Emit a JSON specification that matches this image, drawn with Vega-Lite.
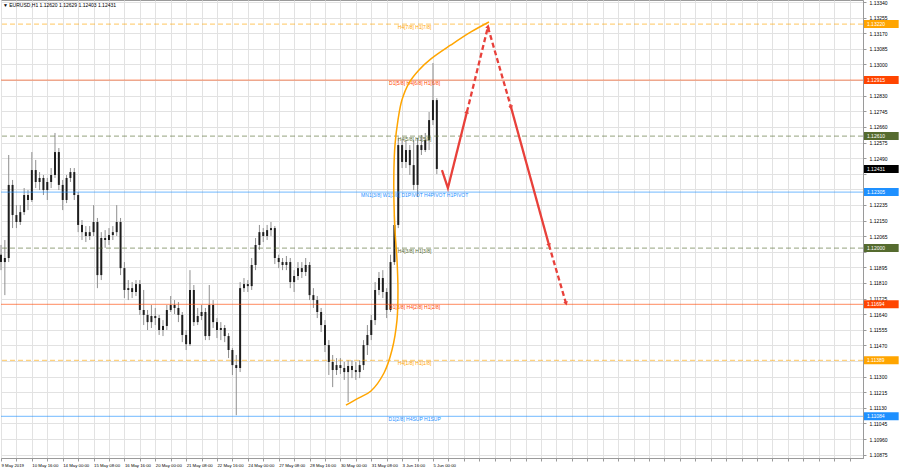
{
"$schema": "https://vega.github.io/schema/vega-lite/v6.json",
"width": 862, "height": 458, "padding": 0, "background": "white",
"config": {"view": {"stroke": "#9a9a9a", "strokeWidth": 1}, "font": "Liberation Sans",
"axis": {"grid": true, "gridColor": "#e2e2e2", "gridWidth": 1, "labelFontSize": 5, "labelColor": "#000000", "tickSize": 3, "tickColor": "#9a9a9a", "domainColor": "#9a9a9a", "labelOverlap": false, "labelFlush": false, "labelBound": false, "tickCount": 1000},
"axisX": {"labelAlign": "left", "labelPadding": 2, "labelFontSize": 4.3},
"axisY": {"labelPadding": 3, "labelBaseline": "middle"}},
"datasets": {
"candles": [
{"b":0,"o":1.11964,"h":1.12017,"l":1.11880,"c":1.11924},
{"b":4,"o":1.11924,"h":1.12044,"l":1.11744,"c":1.11946},
{"b":8,"o":1.11946,"h":1.12507,"l":1.11924,"c":1.12344},
{"b":12,"o":1.12344,"h":1.12371,"l":1.12109,"c":1.12180},
{"b":16,"o":1.12180,"h":1.12234,"l":1.12109,"c":1.12142},
{"b":20,"o":1.12142,"h":1.12234,"l":1.12126,"c":1.12196},
{"b":24,"o":1.12196,"h":1.12327,"l":1.12180,"c":1.12289},
{"b":28,"o":1.12289,"h":1.12316,"l":1.12207,"c":1.12262},
{"b":32,"o":1.12262,"h":1.12523,"l":1.12251,"c":1.12425},
{"b":36,"o":1.12425,"h":1.12480,"l":1.12327,"c":1.12360},
{"b":40,"o":1.12360,"h":1.12414,"l":1.12316,"c":1.12382},
{"b":44,"o":1.12382,"h":1.12398,"l":1.12289,"c":1.12316},
{"b":48,"o":1.12316,"h":1.12382,"l":1.12262,"c":1.12360},
{"b":52,"o":1.12360,"h":1.12436,"l":1.12327,"c":1.12398},
{"b":56,"o":1.12398,"h":1.12627,"l":1.12382,"c":1.12523},
{"b":60,"o":1.12523,"h":1.12545,"l":1.12316,"c":1.12344},
{"b":64,"o":1.12344,"h":1.12371,"l":1.12207,"c":1.12262},
{"b":68,"o":1.12262,"h":1.12398,"l":1.12245,"c":1.12382},
{"b":72,"o":1.12382,"h":1.12436,"l":1.12360,"c":1.12414},
{"b":76,"o":1.12414,"h":1.12436,"l":1.12262,"c":1.12289},
{"b":80,"o":1.12289,"h":1.12305,"l":1.12087,"c":1.12126},
{"b":84,"o":1.12126,"h":1.12153,"l":1.12044,"c":1.12087},
{"b":88,"o":1.12087,"h":1.12120,"l":1.12033,"c":1.12066},
{"b":92,"o":1.12066,"h":1.12120,"l":1.12044,"c":1.12087},
{"b":96,"o":1.12087,"h":1.12234,"l":1.12066,"c":1.12142},
{"b":100,"o":1.12142,"h":1.12164,"l":1.11782,"c":1.11853},
{"b":104,"o":1.11853,"h":1.12087,"l":1.11826,"c":1.12055},
{"b":108,"o":1.12055,"h":1.12098,"l":1.12001,"c":1.12044},
{"b":112,"o":1.12044,"h":1.12109,"l":1.12017,"c":1.12071},
{"b":116,"o":1.12071,"h":1.12120,"l":1.12044,"c":1.12087},
{"b":120,"o":1.12087,"h":1.12234,"l":1.12066,"c":1.12142},
{"b":124,"o":1.12142,"h":1.12164,"l":1.11853,"c":1.11891},
{"b":128,"o":1.11891,"h":1.11924,"l":1.11728,"c":1.11772},
{"b":132,"o":1.11772,"h":1.11826,"l":1.11717,"c":1.11782},
{"b":136,"o":1.11782,"h":1.11815,"l":1.11728,"c":1.11761},
{"b":140,"o":1.11761,"h":1.11826,"l":1.11739,"c":1.11804},
{"b":144,"o":1.11804,"h":1.11826,"l":1.11636,"c":1.11663},
{"b":148,"o":1.11663,"h":1.11772,"l":1.11581,"c":1.11636},
{"b":152,"o":1.11636,"h":1.11663,"l":1.11554,"c":1.11597},
{"b":156,"o":1.11597,"h":1.11690,"l":1.11565,"c":1.11630},
{"b":160,"o":1.11630,"h":1.11674,"l":1.11581,"c":1.11619},
{"b":164,"o":1.11619,"h":1.11636,"l":1.11527,"c":1.11554},
{"b":168,"o":1.11554,"h":1.11608,"l":1.11521,"c":1.11576},
{"b":172,"o":1.11576,"h":1.11690,"l":1.11554,"c":1.11663},
{"b":176,"o":1.11663,"h":1.11739,"l":1.11652,"c":1.11690},
{"b":180,"o":1.11690,"h":1.11717,"l":1.11641,"c":1.11674},
{"b":184,"o":1.11674,"h":1.11706,"l":1.11597,"c":1.11636},
{"b":188,"o":1.11636,"h":1.11652,"l":1.11488,"c":1.11527},
{"b":192,"o":1.11527,"h":1.11554,"l":1.11445,"c":1.11477},
{"b":196,"o":1.11477,"h":1.11880,"l":1.11467,"c":1.11772},
{"b":200,"o":1.11772,"h":1.11799,"l":1.11576,"c":1.11597},
{"b":204,"o":1.11597,"h":1.11674,"l":1.11581,"c":1.11630},
{"b":208,"o":1.11630,"h":1.11690,"l":1.11608,"c":1.11652},
{"b":212,"o":1.11652,"h":1.11674,"l":1.11499,"c":1.11521},
{"b":216,"o":1.11521,"h":1.11799,"l":1.11499,"c":1.11690},
{"b":220,"o":1.11690,"h":1.11717,"l":1.11565,"c":1.11597},
{"b":224,"o":1.11597,"h":1.11619,"l":1.11510,"c":1.11554},
{"b":228,"o":1.11554,"h":1.11597,"l":1.11499,"c":1.11565},
{"b":232,"o":1.11565,"h":1.11581,"l":1.11488,"c":1.11521},
{"b":236,"o":1.11521,"h":1.11537,"l":1.11401,"c":1.11445},
{"b":240,"o":1.11445,"h":1.11456,"l":1.11309,"c":1.11363},
{"b":244,"o":1.11363,"h":1.11418,"l":1.11090,"c":1.11347},
{"b":248,"o":1.11347,"h":1.11815,"l":1.11325,"c":1.11782},
{"b":252,"o":1.11782,"h":1.11837,"l":1.11761,"c":1.11804},
{"b":256,"o":1.11804,"h":1.11826,"l":1.11761,"c":1.11793},
{"b":260,"o":1.11793,"h":1.11946,"l":1.11772,"c":1.11908},
{"b":264,"o":1.11908,"h":1.12055,"l":1.11880,"c":1.12017},
{"b":268,"o":1.12017,"h":1.12126,"l":1.11990,"c":1.12087},
{"b":272,"o":1.12087,"h":1.12109,"l":1.12033,"c":1.12066},
{"b":276,"o":1.12066,"h":1.12126,"l":1.12044,"c":1.12098},
{"b":280,"o":1.12098,"h":1.12142,"l":1.12066,"c":1.12109},
{"b":284,"o":1.12109,"h":1.12120,"l":1.11913,"c":1.11946},
{"b":288,"o":1.11946,"h":1.11964,"l":1.11891,"c":1.11924},
{"b":292,"o":1.11924,"h":1.11946,"l":1.11880,"c":1.11908},
{"b":296,"o":1.11908,"h":1.11957,"l":1.11880,"c":1.11924},
{"b":300,"o":1.11924,"h":1.11946,"l":1.11782,"c":1.11815},
{"b":304,"o":1.11815,"h":1.11880,"l":1.11761,"c":1.11848},
{"b":308,"o":1.11848,"h":1.11924,"l":1.11826,"c":1.11891},
{"b":312,"o":1.11891,"h":1.11924,"l":1.11837,"c":1.11870},
{"b":316,"o":1.11870,"h":1.11946,"l":1.11848,"c":1.11908},
{"b":320,"o":1.11908,"h":1.11924,"l":1.11717,"c":1.11744},
{"b":324,"o":1.11744,"h":1.11782,"l":1.11674,"c":1.11717},
{"b":328,"o":1.11717,"h":1.11739,"l":1.11619,"c":1.11652},
{"b":332,"o":1.11652,"h":1.11674,"l":1.11543,"c":1.11581},
{"b":336,"o":1.11581,"h":1.11608,"l":1.11434,"c":1.11472},
{"b":340,"o":1.11472,"h":1.11499,"l":1.11309,"c":1.11380},
{"b":344,"o":1.11380,"h":1.11418,"l":1.11243,"c":1.11336},
{"b":348,"o":1.11336,"h":1.11401,"l":1.11309,"c":1.11363},
{"b":352,"o":1.11363,"h":1.11401,"l":1.11314,"c":1.11347},
{"b":356,"o":1.11347,"h":1.11380,"l":1.11282,"c":1.11325},
{"b":360,"o":1.11325,"h":1.11390,"l":1.11162,"c":1.11358},
{"b":364,"o":1.11358,"h":1.11390,"l":1.11292,"c":1.11336},
{"b":368,"o":1.11336,"h":1.11380,"l":1.11282,"c":1.11325},
{"b":372,"o":1.11325,"h":1.11390,"l":1.11292,"c":1.11363},
{"b":376,"o":1.11363,"h":1.11499,"l":1.11336,"c":1.11472},
{"b":380,"o":1.11472,"h":1.11581,"l":1.11418,"c":1.11527},
{"b":384,"o":1.11527,"h":1.11636,"l":1.11499,"c":1.11608},
{"b":388,"o":1.11608,"h":1.11815,"l":1.11581,"c":1.11772},
{"b":392,"o":1.11772,"h":1.11870,"l":1.11744,"c":1.11837},
{"b":396,"o":1.11837,"h":1.11880,"l":1.11728,"c":1.11761},
{"b":400,"o":1.11761,"h":1.11782,"l":1.11619,"c":1.11663},
{"b":404,"o":1.11663,"h":1.11964,"l":1.11652,"c":1.11924},
{"b":408,"o":1.11924,"h":1.12180,"l":1.11908,"c":1.12126},
{"b":412,"o":1.12126,"h":1.12599,"l":1.12109,"c":1.12561},
{"b":416,"o":1.12561,"h":1.12589,"l":1.12436,"c":1.12469},
{"b":420,"o":1.12469,"h":1.12589,"l":1.12436,"c":1.12534},
{"b":424,"o":1.12534,"h":1.12561,"l":1.12398,"c":1.12452},
{"b":428,"o":1.12452,"h":1.12589,"l":1.12316,"c":1.12344},
{"b":432,"o":1.12344,"h":1.12599,"l":1.12278,"c":1.12561},
{"b":436,"o":1.12561,"h":1.12616,"l":1.12507,"c":1.12534},
{"b":440,"o":1.12534,"h":1.12627,"l":1.12523,"c":1.12589},
{"b":444,"o":1.12589,"h":1.12741,"l":1.12534,"c":1.12697},
{"b":448,"o":1.12697,"h":1.13008,"l":1.12670,"c":1.12806},
{"b":452,"o":1.12806,"h":1.12817,"l":1.12403,"c":1.12431}
],
"levels": [
{"p":1.13220,"label":"H4[7/8] H1[7/8]","grp":"orange","dash":"dash"},
{"p":1.12915,"label":"D1[5/8] H4[6/8] H1[6/8]","grp":"red","dash":"solid"},
{"p":1.12610,"label":"H4[5/8] H1[5/8]","grp":"olive","dash":"dash"},
{"p":1.12305,"label":"MN1[3/8] W1[3/8] D1PIVOT H4PIVOT H1PIVOT","grp":"blue","dash":"solid"},
{"p":1.12000,"label":"H4[3/8] H1[3/8]","grp":"olive","dash":"dash"},
{"p":1.11694,"label":"D1[3/8] H4[2/8] H1[2/8]","grp":"red","dash":"solid"},
{"p":1.11389,"label":"H4[1/8] H1[1/8]","grp":"orange","dash":"dash"},
{"p":1.11084,"label":"D1[2/8] H4SUP H1SUP","grp":"blue","dash":"solid"}
],
"tags": [
{"p":1.13220,"grp":"orange"},
{"p":1.12915,"grp":"red"},
{"p":1.12610,"grp":"olive"},
{"p":1.12431,"grp":"black"},
{"p":1.12305,"grp":"blue"},
{"p":1.12000,"grp":"olive"},
{"p":1.11694,"grp":"red"},
{"p":1.11389,"grp":"orange"},
{"p":1.11084,"grp":"blue"}
],
"curve": [
{"i":0,"b":357.8,"p":1.11145},
{"i":1,"b":371.2,"p":1.11184},
{"i":2,"b":383.7,"p":1.11222},
{"i":3,"b":397.2,"p":1.11320},
{"i":4,"b":405.5,"p":1.11445},
{"i":5,"b":410.7,"p":1.11608},
{"i":6,"b":411.7,"p":1.11772},
{"i":7,"b":410.7,"p":1.11935},
{"i":8,"b":408.6,"p":1.12098},
{"i":9,"b":407.5,"p":1.12262},
{"i":10,"b":407.5,"p":1.12425},
{"i":11,"b":408.6,"p":1.12561},
{"i":12,"b":411.7,"p":1.12697},
{"i":13,"b":415.8,"p":1.12806},
{"i":14,"b":423.1,"p":1.12899},
{"i":15,"b":433.5,"p":1.12970},
{"i":16,"b":445.9,"p":1.13030},
{"i":17,"b":466.6,"p":1.13106},
{"i":18,"b":487.4,"p":1.13177},
{"i":19,"b":506.1,"p":1.13231}
],
"path": [
{"seg":"s1","style":"solid","i":0,"b":457.3,"p":1.12425},
{"seg":"s1","style":"solid","i":1,"b":463.5,"p":1.12327},
{"seg":"s1","style":"solid","i":2,"b":483.2,"p":1.12741},
{"seg":"s2","style":"dash","i":0,"b":483.2,"p":1.12741},
{"seg":"s2","style":"dash","i":1,"b":505.0,"p":1.13204},
{"seg":"s2","style":"dash","i":2,"b":528.9,"p":1.12768},
{"seg":"s3","style":"solid","i":0,"b":528.9,"p":1.12768},
{"seg":"s3","style":"solid","i":1,"b":568.3,"p":1.12017},
{"seg":"s4","style":"dash","i":0,"b":568.3,"p":1.12017},
{"seg":"s4","style":"dash","i":1,"b":585.9,"p":1.11701}
],
"arrows": [
{"b":483.2,"p":1.12741,"ang":14},
{"b":505.0,"p":1.13204,"ang":14},
{"b":528.9,"p":1.12768,"ang":164},
{"b":568.3,"p":1.12017,"ang":164},
{"b":585.9,"p":1.11701,"ang":164}
],
"head": [{"t":"▼  EURUSD,H1  1.12620 1.12629 1.12403 1.12431"}]
},
"layer": [
{
"data": {"name": "candles"},
"mark": {"type": "rule", "color": "#8f8f8f", "strokeWidth": 1},
"encoding": {
"x": {"field": "b", "type": "quantitative", "scale": {"domain": [0, 894], "nice": false, "zero": false},
"axis": {"title": null, "orient": "bottom", "tickCount": 1000, "labelOverlap": false, "values": [0,16,32,48,64,80,96,112,128,144,160,176,192,208,224,240,256,272,288,304,320,336,352,368,384,400,416,432,448,464,480,496,512,528,544,560,576,592,608,624,640,656,672,688,704,720,736,752,768,784,800,816,832,848,864,880],
"labelExpr": "(datum.value % 32 == 0 && datum.value <= 448) ? ['9 May 2019','10 May 16:00','14 May 00:00','15 May 08:00','16 May 16:00','20 May 00:00','21 May 08:00','22 May 16:00','24 May 00:00','27 May 08:00','28 May 16:00','30 May 00:00','31 May 08:00','3 Jun 16:00','5 Jun 00:00'][datum.value / 32] : ''"}},
"y": {"field": "l", "type": "quantitative", "scale": {"domain": [1.10857, 1.13351], "nice": false, "zero": false},
"axis": {"title": null, "orient": "right", "tickCount": 1000, "labelOverlap": false, "values": [1.13340,1.13255,1.13170,1.13085,1.13000,1.12915,1.12830,1.12745,1.12660,1.12575,1.12490,1.12405,1.12320,1.12235,1.12150,1.12065,1.11980,1.11895,1.11810,1.11725,1.11640,1.11555,1.11470,1.11385,1.11300,1.11215,1.11130,1.11045,1.10960,1.10875],
"labelExpr": "indexof(['1.12915','1.12320','1.11980','1.11385','1.12405'], format(datum.value, '.5f')) >= 0 ? '' : format(datum.value, '.5f')"}},
"y2": {"field": "h"}
}
},
{
"data": {"name": "candles"},
"mark": {"type": "rule", "color": "#1e1e1e", "strokeWidth": 2},
"encoding": {
"x": {"field": "b", "type": "quantitative", "axis": {"title": null}},
"y": {"field": "o", "type": "quantitative", "axis": {"title": null}},
"y2": {"field": "c"}
}
},
{
"data": {"name": "levels"},
"mark": {"type": "rule", "strokeWidth": 1.2, "opacity": 0.5},
"encoding": {
"y": {"field": "p", "type": "quantitative", "axis": {"title": null}},
"color": {"field": "grp", "type": "nominal", "legend": null, "scale": {"domain": ["orange","red","olive","blue","black"], "range": ["#FFA500","#FF4500","#556B2F","#1E90FF","#000000"]}},
"strokeDash": {"field": "dash", "type": "nominal", "legend": null, "scale": {"domain": ["solid","dash"], "range": [[1,0],[5,3]]}}
}
},
{
"data": {"name": "levels"},
"mark": {"type": "text", "fontSize": 5, "baseline": "top", "align": "center", "dy": 1},
"encoding": {
"x": {"datum": 429, "type": "quantitative", "axis": {"title": null}},
"y": {"field": "p", "type": "quantitative", "axis": {"title": null}},
"text": {"field": "label"},
"color": {"field": "grp", "type": "nominal", "legend": null}
}
},
{
"data": {"name": "curve"},
"mark": {"type": "line", "color": "#FFA500", "strokeWidth": 1.5, "interpolate": "catmull-rom"},
"encoding": {
"x": {"field": "b", "type": "quantitative", "axis": {"title": null}},
"y": {"field": "p", "type": "quantitative", "axis": {"title": null}},
"order": {"field": "i", "type": "quantitative"}
}
},
{
"data": {"name": "path"},
"mark": {"type": "line", "color": "#E8403A", "strokeWidth": 2.3},
"encoding": {
"x": {"field": "b", "type": "quantitative", "axis": {"title": null}},
"y": {"field": "p", "type": "quantitative", "axis": {"title": null}},
"detail": {"field": "seg"},
"order": {"field": "i", "type": "quantitative"},
"strokeDash": {"field": "style", "type": "nominal", "legend": null}
}
},
{
"data": {"name": "arrows"},
"mark": {"type": "point", "shape": "triangle", "filled": true, "color": "#E8403A", "size": 22, "opacity": 1},
"encoding": {
"x": {"field": "b", "type": "quantitative", "axis": {"title": null}},
"y": {"field": "p", "type": "quantitative", "axis": {"title": null}},
"angle": {"field": "ang", "type": "quantitative", "scale": null}
}
},
{
"data": {"name": "tags"},
"mark": {"type": "rect", "yOffset": -4, "y2Offset": 4},
"encoding": {
"x": {"datum": 895, "type": "quantitative", "axis": {"title": null}},
"x2": {"datum": 931},
"y": {"field": "p", "type": "quantitative", "axis": {"title": null}},
"y2": {"field": "p"},
"color": {"field": "grp", "type": "nominal", "legend": null}
}
},
{
"data": {"name": "tags"},
"mark": {"type": "text", "fontSize": 5, "align": "left", "baseline": "middle", "dx": 2, "color": "white"},
"encoding": {
"x": {"datum": 896, "type": "quantitative", "axis": {"title": null}},
"y": {"field": "p", "type": "quantitative", "axis": {"title": null}},
"text": {"field": "p", "type": "quantitative", "format": ".5f"}
}
},
{
"data": {"name": "head"},
"mark": {"type": "text", "fontSize": 5, "align": "left", "baseline": "middle", "color": "#000000"},
"encoding": {
"x": {"datum": 2, "type": "quantitative", "axis": {"title": null}},
"y": {"datum": 1.13323, "type": "quantitative", "axis": {"title": null}},
"text": {"field": "t"}
}
}
]
}
